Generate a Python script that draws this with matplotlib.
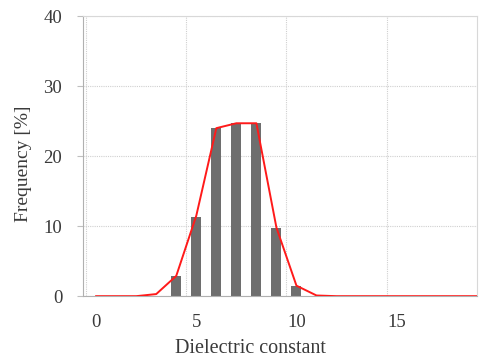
import matplotlib
matplotlib.use("Agg")
import matplotlib.pyplot as plt
import numpy as np

plt.rcParams['font.family'] = ['Liberation Serif', 'DejaVu Serif']

# Data
bar_x = [4, 5, 6, 7, 8, 9, 10]
bar_freq = [2.9, 11.3, 24.0, 24.7, 24.8, 9.8, 1.5]
line_x = list(range(0, 20))
line_freq = [0, 0, 0, 0.3, 2.9, 11.5, 24.0, 24.7, 24.7, 9.8, 1.5, 0.1,
             0, 0, 0, 0, 0, 0, 0, 0]
xtick_labels = ["0", "5", "10", "15"]
xtick_pos = [0, 5, 10, 15]
ytick_vals = [0, 10, 20, 30, 40]

fig = plt.figure(figsize=(4.86, 3.59), dpi=100)
ax = fig.add_axes([0.171, 0.175, 0.81, 0.78])

ax.bar(bar_x, bar_freq, width=0.5, color='#6e6e6e', zorder=2)
ax.plot(line_x, line_freq, color='#ff1a1a', lw=1.4, zorder=3)

ax.set_xlim(-0.65, 19.0)
ax.set_ylim(0, 40)
ax.set_yticks(ytick_vals)
ax.set_xticks(xtick_pos)
ax.set_xticklabels(xtick_labels)
ax.set_xticks([-0.5, 4.5, 9.5, 14.5], minor=True)

ax.grid(which='minor', axis='x', color='#d0d0d0', ls=(0, (1, 1)), lw=0.8, zorder=0)
ax.grid(which='major', axis='y', color='#d0d0d0', ls=(0, (1, 1)), lw=0.8, zorder=0)
ax.tick_params(axis='x', which='both', length=0, labelsize=13.5, colors='#3a3a3a', pad=13)
ax.tick_params(axis='y', which='major', length=4, color='#bfbfbf', labelsize=13.5,
               labelcolor='#3a3a3a', pad=11)

for s in ['left', 'bottom']:
    ax.spines[s].set_color('#b0b0b0')
for s in ['top', 'right']:
    ax.spines[s].set_color('#d8d8d8')
    ax.spines[s].set_linewidth(0.8)

ax.set_xlabel('Dielectric constant', fontsize=14.5, color='#3a3a3a')
ax.set_ylabel('Frequency [%]', fontsize=14, color='#3a3a3a')
ax.xaxis.set_label_coords(0.424, -0.152)
ax.yaxis.set_label_coords(-0.13, 0.473)

fig.savefig('out.png', dpi=100)
